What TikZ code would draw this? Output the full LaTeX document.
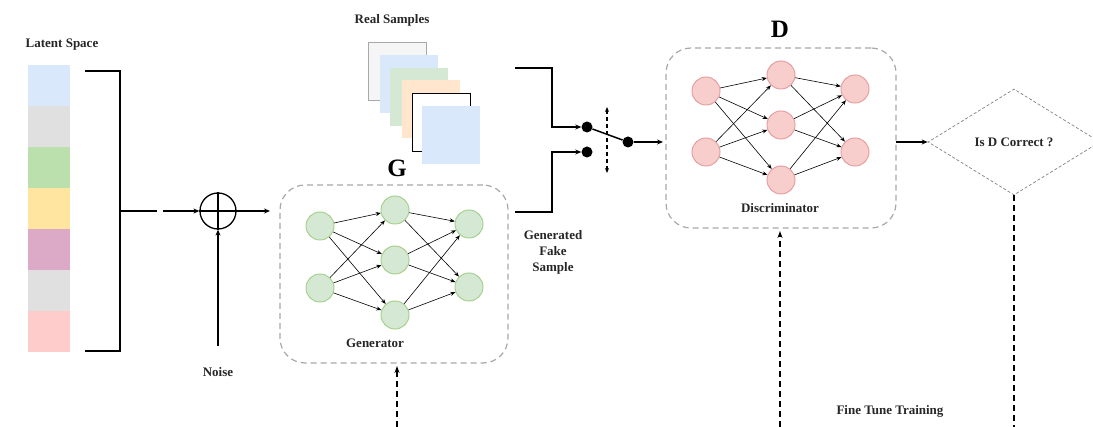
\documentclass[tikz,border=0pt]{standalone}
\usepackage{fontspec}
\setmainfont{Liberation Serif}
\usetikzlibrary{arrows.meta,shapes.geometric}
\definecolor{lblue}{HTML}{DAE8FC}
\definecolor{lgray}{HTML}{E0E0E0}
\definecolor{lgreen}{HTML}{BCDFAE}
\definecolor{lyellow}{HTML}{FFE5A0}
\definecolor{lpurple}{HTML}{DCAAC6}
\definecolor{lpink}{HTML}{FFCCCC}
\definecolor{gfill}{HTML}{D5E8D4}
\definecolor{gline}{HTML}{A6D18E}
\definecolor{rfill}{HTML}{F8CECC}
\definecolor{rline}{HTML}{E5A0A0}
\definecolor{boxgray}{HTML}{A8A8A8}
\definecolor{sqgreen}{HTML}{D5E8D4}
\definecolor{sqorange}{HTML}{FFE6CC}
\definecolor{sqwhite}{HTML}{F5F5F5}
\begin{document}
\begin{tikzpicture}[x=1pt,y=-1pt,
  lbl/.style={font=\fontsize{13}{15}\selectfont\bfseries, text=black!85, inner sep=0, align=center},
  big/.style={font=\fontsize{25}{28}\selectfont\bfseries, inner sep=0},
  seg/.style={rectangle, minimum width=42pt, minimum height=41pt, inner sep=0, draw=none},
  sq/.style={rectangle, minimum width=58pt, minimum height=58pt, inner sep=0},
  gn/.style={circle, minimum size=28pt, inner sep=0, fill=gfill, draw=gline, line width=1pt},
  rn/.style={circle, minimum size=28pt, inner sep=0, fill=rfill, draw=rline, line width=1pt},
  syn/.style={-{Stealth[length=5pt,width=4pt]}, line width=0.6pt},
  thickline/.style={line width=1.5pt},
  arr/.style={-{Stealth[length=6pt,width=5pt]}},
  nnbox/.style={rectangle, draw=boxgray, dash pattern=on 6pt off 4pt, line width=1.2pt, rounded corners=25pt, inner sep=0},
  fb/.style={line width=1.6pt, dash pattern=on 6pt off 4pt},
  fbarr/.style={-{Stealth[length=7pt,width=5pt]}},
  dot/.style={circle, fill=black, minimum size=11pt, inner sep=0}
]
\useasboundingbox (0,0) rectangle (1093,427);

% Latent space
\node[lbl] (lat) at (62,45) {Latent Space};
\node[seg, fill=lblue]   (l1) at (49,85.5) {};
\node[seg, fill=lgray]   (l2) at (49,126.5) {};
\node[seg, fill=lgreen]  (l3) at (49,167.5) {};
\node[seg, fill=lyellow] (l4) at (49,208.5) {};
\node[seg, fill=lpurple] (l5) at (49,249.5) {};
\node[seg, fill=lgray]   (l6) at (49,290.5) {};
\node[seg, fill=lpink]   (l7) at (49,331.5) {};

% bracket
\coordinate (bt1) at (85,71);
\coordinate (bt2) at (120,71);
\coordinate (bb2) at (120,351);
\coordinate (bb1) at (85,351);
\coordinate (bm) at (120,211);
\coordinate (bm1) at (157,211);
\coordinate (bm2) at (163,211);
\draw[thickline] (bt1) -- (bt2) -- (bb2) -- (bb1);

% sum
\node[circle, draw, line width=1.3pt, minimum size=36pt, inner sep=0] (sum) at (218,211) {};
\draw[line width=1.1pt] (sum.north) -- (sum.south);
\draw[line width=1.1pt] (sum.west) -- (sum.east);
\draw[thickline] (bm) -- (bm1);
\draw[thickline, arr] (bm2) -- (sum);

% noise
\node[lbl] (noise) at (218,372) {Noise};
\coordinate (nz) at (218,346);
\draw[line width=1.1pt, arr] (nz) -- (sum);

% generator
\node[big] (G) at (397,168) {G};
\node[nnbox, minimum width=228pt, minimum height=178pt] (gbox) at (394,274) {};
\coordinate (gin2) at (270,211);
\draw[thickline, arr] (sum.east) -- (gin2);
\node[gn] (g11) at (320,226) {};
\node[gn] (g12) at (320,288) {};
\node[gn] (g21) at (395,210) {};
\node[gn] (g22) at (395,260) {};
\node[gn] (g23) at (395,315) {};
\node[gn] (g31) at (469,224) {};
\node[gn] (g32) at (469,287) {};
\foreach \a in {g11,g12} \foreach \b in {g21,g22,g23} \draw[syn] (\a) -- (\b);
\foreach \a in {g21,g22,g23} \foreach \b in {g31,g32} \draw[syn] (\a) -- (\b);
\node[lbl] (gen) at (375,343) {Generator};
\node[lbl, font=\fontsize{13}{16}\selectfont\bfseries] (fake) at (553,252) {Generated\\Fake\\Sample};

% real samples
\node[lbl] (real) at (392,20) {Real Samples};
\node[sq, fill=sqwhite, draw=boxgray, line width=0.8pt] (s1q) at (397.5,71.5) {};
\node[sq, fill=lblue] (s2q) at (409,84) {};
\node[sq, fill=sqgreen] (s3q) at (419,97.5) {};
\node[sq, fill=sqorange] (s4q) at (431,109.5) {};
\node[sq, fill=white, draw=black, line width=0.8pt] (s5q) at (441,122.5) {};
\node[sq, fill=lblue] (s6q) at (450.5,135.5) {};

% switch
\node[dot] (sw1) at (587,127) {};
\node[dot] (sw2) at (587,152) {};
\node[dot] (sw3) at (628,142) {};
\coordinate (rout) at (515,68);
\coordinate (rc) at (552,68);
\coordinate (rc2) at (552,127);
\draw[thickline, arr] (rout) -- (rc) -- (rc2) -- (sw1);
\coordinate (gout) at (515,212);
\coordinate (gc) at (552,212);
\coordinate (gc2) at (552,152);
\draw[thickline, arr] (gout) -- (gc) -- (gc2) -- (sw2);
\draw[thickline] (sw1) -- (sw3);
\coordinate (swt) at (607,107);
\coordinate (swb) at (607,173);
\draw[line width=1.2pt, dash pattern=on 4pt off 3pt, {Stealth[length=5pt,width=4pt]}-{Stealth[length=5pt,width=4pt]}] (swt) -- (swb);

% discriminator
\node[big] (D) at (780,29) {D};
\node[nnbox, minimum width=230pt, minimum height=180pt] (dbox) at (781,138) {};
\coordinate (din) at (663,142);
\draw[thickline, arr] (sw3) -- (din);
\node[rn] (d11) at (706,91) {};
\node[rn] (d12) at (706,152) {};
\node[rn] (d21) at (781,75) {};
\node[rn] (d22) at (781,125) {};
\node[rn] (d23) at (781,180) {};
\node[rn] (d31) at (855,89) {};
\node[rn] (d32) at (855,152) {};
\foreach \a in {d11,d12} \foreach \b in {d21,d22,d23} \draw[syn] (\a) -- (\b);
\foreach \a in {d21,d22,d23} \foreach \b in {d31,d32} \draw[syn] (\a) -- (\b);
\node[lbl] (disc) at (780,208) {Discriminator};

% decision
\node[diamond, draw=gray, dash pattern=on 3pt off 2pt, line width=0.7pt, minimum width=172pt, minimum height=106pt, inner sep=0, font=\fontsize{13}{15}\selectfont\bfseries, text=black!85] (dia) at (1014,142) {Is D Correct ?};
\coordinate (dout) at (896,142);
\draw[thickline, arr] (dout) -- (dia.west);

% feedback
\coordinate (cb) at (1014,427);
\coordinate (db) at (780,427);
\coordinate (gb) at (397,427);
\coordinate (dbt) at (780,231);
\coordinate (gbt) at (397,366);
\draw[fb] (dia.south) -- (cb);
\draw[fb, fbarr] (db) -- (dbt);
\draw[fb, fbarr] (gb) -- (gbt);
\node[lbl] (ft) at (890,411) {Fine Tune Training};
\end{tikzpicture}
\end{document}
